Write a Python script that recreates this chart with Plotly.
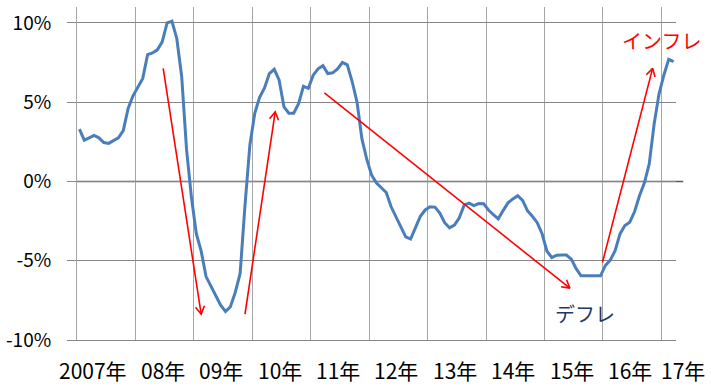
import math
import plotly.graph_objects as go

# Monthly year-on-year change (%), Jan 2007 .. Mar 2017
values = [
    3.3, 2.6, 2.75, 2.9, 2.75, 2.45, 2.4, 2.55, 2.75, 3.2,
    4.6, 5.4, 6.0, 6.5, 8.0, 8.1, 8.3, 8.8, 10.0, 10.1,
    9.0, 6.6, 2.0, -1.0, -3.3, -4.4, -6.0, -6.6, -7.2, -7.8,
    -8.2, -7.9, -7.0, -5.8, -1.5, 2.3, 4.3, 5.3, 5.9, 6.8,
    7.07, 6.4, 4.7, 4.3, 4.3, 4.9, 6.0, 5.87, 6.7, 7.1,
    7.3, 6.8, 6.85, 7.1, 7.5, 7.35, 6.3, 5.0, 2.7, 1.4,
    0.4, -0.1, -0.4, -0.7, -1.6, -2.2, -2.9, -3.5, -3.63, -2.9,
    -2.2, -1.8, -1.6, -1.62, -2.0, -2.6, -2.93, -2.75, -2.3, -1.5,
    -1.37, -1.52, -1.4, -1.41, -1.8, -2.1, -2.36, -1.84, -1.35, -1.1,
    -0.9, -1.2, -1.84, -2.2, -2.6, -3.3, -4.4, -4.8, -4.65, -4.64,
    -4.64, -4.9, -5.5, -5.95, -5.95, -5.95, -5.95, -5.95, -5.3, -4.96,
    -4.37, -3.31, -2.78, -2.57, -1.9, -0.9, -0.1, 1.1, 3.6, 5.5,
    6.7, 7.7, 7.55,
]
month_index = list(range(len(values)))          # months since Jan 2007
year_labels = ["2007年", "08年", "09年", "10年", "11年", "12年",
               "13年", "14年", "15年", "16年", "17年"]
y_tick_values = [-10, -5, 0, 5, 10]
y_tick_labels = ["-10%", "-5%", "0%", "5%", "10%"]

# red trend arrows (month axis units, %)
arrow_x0 = [17.7, 34.5, 50.8, 107.9]
arrow_y0 = [7.13, -8.37, 5.59, -5.11]
arrow_x1 = [25.5, 40.7, 101.2, 118.2]
arrow_y1 = [-8.37, 4.39, -6.73, 7.13]

X_MIN, X_MAX = 0, 123
Y_MIN, Y_MAX = -10, 11
W, H = 711, 389
ML, MR, MT, MB = 77, 35, 7, 49
SX = (W - ML - MR) / (X_MAX - X_MIN)
SY = (H - MT - MB) / (Y_MAX - Y_MIN)

FONT = "Noto Sans CJK JP"
RED = "#FF0000"

fig = go.Figure()

# zero line (extends a little past the plot)
fig.add_shape(type="line", xref="paper", yref="y", x0=0, x1=1.012, y0=0, y1=0,
              line=dict(color="#595959", width=1.5), layer="below")

fig.add_trace(go.Scatter(
    x=[m + 0.5 for m in month_index], y=values, mode="lines",
    line=dict(color="#4A7EBB", width=3), showlegend=False, hoverinfo="skip"))

def arrow_head(x0, y0, x1, y1, length=9, half_angle=30):
    dx, dy = (x1 - x0) * SX, (y1 - y0) * SY
    n = math.hypot(dx, dy)
    ux, uy = dx / n, dy / n
    a = math.radians(half_angle)
    hx, hy = [], []
    for s in (1, -1):
        c, sn = math.cos(s * a), math.sin(s * a)
        rx, ry = ux * c - uy * sn, ux * sn + uy * c
        hx.append(x1 - length * rx / SX)
        hy.append(y1 - length * ry / SY)
    return [hx[0], x1, hx[1]], [hy[0], y1, hy[1]]

for x0, y0, x1, y1 in zip(arrow_x0, arrow_y0, arrow_x1, arrow_y1):
    fig.add_trace(go.Scatter(x=[x0, x1], y=[y0, y1], mode="lines",
                             line=dict(color=RED, width=1.6),
                             showlegend=False, hoverinfo="skip"))
    hx, hy = arrow_head(x0, y0, x1, y1)
    fig.add_trace(go.Scatter(x=hx, y=hy, mode="lines",
                             line=dict(color=RED, width=1.6),
                             showlegend=False, hoverinfo="skip"))

annotations = []
shifts = [-13] + [-2] * (len(year_labels) - 2) + [-8]
for k, (lab, sh) in enumerate(zip(year_labels, shifts)):
    xc = 12 * k + 6
    annotations.append(dict(
        x=(xc - X_MIN) / (X_MAX - X_MIN), xref="paper", y=0, yref="paper",
        text=lab, showarrow=False, xanchor="center", yanchor="middle",
        yshift=-30, xshift=sh, font=dict(family=FONT, size=21, color="#000000")))

annotations.append(dict(x=120.1, y=8.9, xref="x", yref="y", text="インフレ",
                        showarrow=False, font=dict(family=FONT, size=20, color=RED)))
annotations.append(dict(x=104.3, y=-8.35, xref="x", yref="y", text="デフレ",
                        showarrow=False, font=dict(family=FONT, size=20, color="#1F3864")))

fig.update_layout(
    width=W, height=H,
    margin=dict(l=ML, r=MR, t=MT, b=MB, pad=0),
    paper_bgcolor="white", plot_bgcolor="white",
    font=dict(family=FONT, color="#000000"),
    xaxis=dict(range=[X_MIN, X_MAX], tickmode="array",
               tickvals=[12 * k for k in range(11)],
               showticklabels=False, ticks="", showgrid=True,
               gridcolor="#A6A6A6", gridwidth=1, zeroline=False,
               showline=True, linecolor="#868686", linewidth=1),
    yaxis=dict(range=[Y_MIN, Y_MAX], tickmode="array",
               tickvals=y_tick_values, ticktext=y_tick_labels,
               ticks="outside", ticklen=9, tickcolor="#868686",
               showgrid=True, gridcolor="#868686", gridwidth=1,
               zeroline=False, showline=True, linecolor="#A6A6A6",
               ticklabelstandoff=12,
               tickfont=dict(family=FONT, size=19, color="#000000")),
    annotations=annotations,
)

fig.write_html("out.html")
